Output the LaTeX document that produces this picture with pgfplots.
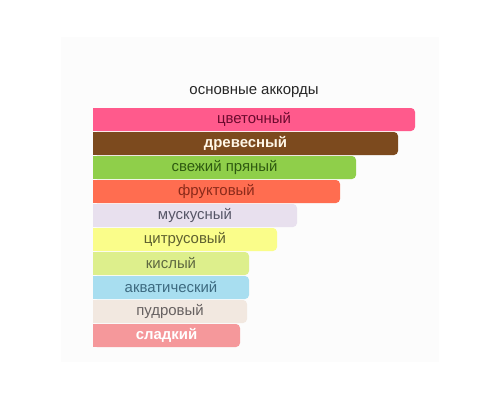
\documentclass[border=0pt]{standalone}
\usepackage{pgfplots}
\pgfplotsset{compat=1.18}
\usepackage{fontspec}
\setmainfont{Liberation Sans}
\definecolor{bg}{RGB}{252,252,252}
\definecolor{c1}{HTML}{FF5A8C}
\definecolor{c2}{HTML}{7C4A1E}
\definecolor{c3}{HTML}{8FCF4A}
\definecolor{c4}{HTML}{FF6D50}
\definecolor{c5}{HTML}{E8E0EE}
\definecolor{c6}{HTML}{FAFD8A}
\definecolor{c7}{HTML}{DDEF8C}
\definecolor{c8}{HTML}{A8DEF0}
\definecolor{c9}{HTML}{F2E8E0}
\definecolor{c10}{HTML}{F5989B}
\definecolor{t1}{HTML}{6B0A2E}
\definecolor{t2}{HTML}{FFF6E6}
\definecolor{t3}{HTML}{2E5A10}
\definecolor{t4}{HTML}{8B2A1A}
\definecolor{t5}{HTML}{555566}
\definecolor{t6}{HTML}{5E6030}
\definecolor{t7}{HTML}{5E6840}
\definecolor{t8}{HTML}{3D6A80}
\definecolor{t9}{HTML}{666060}
\definecolor{t10}{HTML}{FFFFFF}
\begin{document}
\begin{tikzpicture}
\useasboundingbox (0,0) rectangle (500bp,400bp);
\fill[white] (0,0) rectangle (500bp,400bp);
\fill[bg] (61bp,38bp) rectangle (439bp,363bp);
\node[font=\fontsize{15}{17}\selectfont, text=black!85] at (254bp,308bp) {основные аккорды};
\begin{axis}[
  at={(93bp,292.5bp)}, anchor=north west,
  x=1bp, y=24bp, y dir=reverse,
  xmin=5, xmax=345, ymin=-0.5, ymax=9.5,
  axis lines=none, ticks=none,
  xbar, bar width=23bp, bar shift=0pt,
  every axis plot/.append style={draw=none, rounded corners=4bp},
  nodes={font=\fontsize{15}{17}\selectfont},
]
% square left parts (underneath)
\addplot[fill=c1, sharp corners] coordinates {(40,0)};
\addplot[fill=c2, sharp corners] coordinates {(40,1)};
\addplot[fill=c3, sharp corners] coordinates {(40,2)};
\addplot[fill=c4, sharp corners] coordinates {(40,3)};
\addplot[fill=c5, sharp corners] coordinates {(40,4)};
\addplot[fill=c6, sharp corners] coordinates {(40,5)};
\addplot[fill=c7, sharp corners] coordinates {(40,6)};
\addplot[fill=c8, sharp corners] coordinates {(40,7)};
\addplot[fill=c9, sharp corners] coordinates {(40,8)};
\addplot[fill=c10, sharp corners] coordinates {(40,9)};
% full bars, rounded
\addplot[fill=c1] coordinates {(327,0)};
\addplot[fill=c2] coordinates {(310,1)};
\addplot[fill=c3] coordinates {(268,2)};
\addplot[fill=c4] coordinates {(252,3)};
\addplot[fill=c5] coordinates {(209,4)};
\addplot[fill=c6] coordinates {(189,5)};
\addplot[fill=c7] coordinates {(161,6)};
\addplot[fill=c8] coordinates {(161,7)};
\addplot[fill=c9] coordinates {(159,8)};
\addplot[fill=c10] coordinates {(152,9)};
\node[text=t1] at (axis cs:166,0) {цветочный};
\node[text=t2, font=\fontsize{15}{17}\selectfont\bfseries] at (axis cs:157.5,1) {древесный};
\node[text=t3] at (axis cs:136.5,2) {свежий пряный};
\node[text=t4] at (axis cs:128.5,3) {фруктовый};
\node[text=t5] at (axis cs:107,4) {мускусный};
\node[text=t6] at (axis cs:97,5) {цитрусовый};
\node[text=t7] at (axis cs:83,6) {кислый};
\node[text=t8] at (axis cs:83,7) {акватический};
\node[text=t9] at (axis cs:82,8) {пудровый};
\node[text=t10, font=\fontsize{15}{17}\selectfont\bfseries] at (axis cs:78.5,9) {сладкий};
\end{axis}
\end{tikzpicture}
\end{document}
